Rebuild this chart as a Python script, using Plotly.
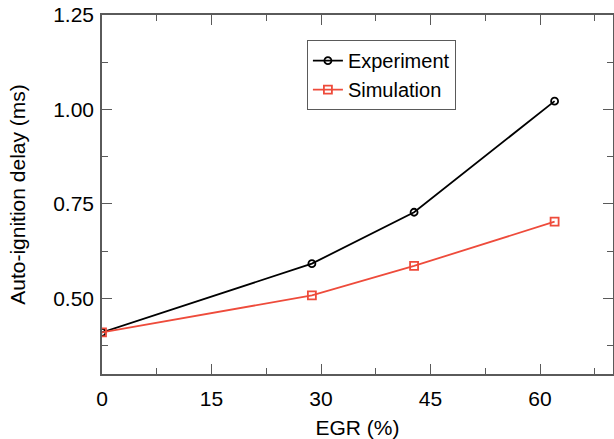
import plotly.graph_objects as go

egr = [0, 28.75, 42.75, 62]
experiment = [0.41, 0.592, 0.728, 1.022]
simulation = [0.41, 0.508, 0.586, 0.703]

x_ticks = [0, 15, 30, 45, 60]
y_ticks = [0.50, 0.75, 1.00, 1.25]
y_tick_labels = ["0.50", "0.75", "1.00", "1.25"]

FONT = "Liberation Sans, Arial, Helvetica, sans-serif"
AX = "#5a5a5a"
RED = "#ee4b3b"

fig = go.Figure()
fig.add_trace(go.Scatter(
    x=egr, y=experiment, name="Experiment", mode="lines+markers",
    line=dict(color="black", width=1.8),
    marker=dict(symbol="circle-open", size=7, color="black", line=dict(width=1.8)),
))
fig.add_trace(go.Scatter(
    x=egr, y=simulation, name="Simulation", mode="lines+markers",
    line=dict(color=RED, width=1.8),
    marker=dict(symbol="square-open", size=8, color=RED, line=dict(width=1.8)),
))

axis_common = dict(
    showgrid=False, zeroline=False, showline=True, linecolor=AX, linewidth=1.5,
    mirror="ticks", ticks="inside", ticklen=10, tickwidth=1.2, tickcolor=AX,
    tickfont=dict(family=FONT, size=21, color="black"),
    title_font=dict(family=FONT, size=21, color="black"),
    ticklabeloverflow="allow", automargin=False,
)

fig.update_xaxes(
    range=[0, 70], tickvals=x_ticks, title_text="EGR (%)", title_standoff=11,
    minor=dict(dtick=7.5, tick0=0, ticks="inside", ticklen=6, tickcolor=AX, tickwidth=1.2),
    ticklabelstandoff=5,
    **axis_common,
)
fig.update_yaxes(
    range=[0.3, 1.25], tickvals=y_ticks, ticktext=y_tick_labels,
    title_text="Auto-ignition delay (ms)", title_standoff=22,
    minor=dict(tickvals=[0.375, 0.625, 0.875, 1.125], ticks="inside", ticklen=6, tickcolor=AX, tickwidth=1.2),
    ticklabelstandoff=2,
    **axis_common,
)

fig.update_layout(
    width=614, height=439,
    margin=dict(l=102, r=1, t=15, b=65),
    paper_bgcolor="white", plot_bgcolor="white",
    font=dict(family=FONT, size=20, color="black"),
    legend=dict(
        x=0.401, y=0.93, xanchor="left", yanchor="top",
        bordercolor=AX, borderwidth=1, bgcolor="white",
        font=dict(family=FONT, size=20, color="black"),
        tracegroupgap=0, itemwidth=30,
    ),
)

fig.write_html(
    "out.html",
    config={"displayModeBar": False},
    post_script="document.body.style.margin='0';document.body.style.overflow='hidden';",
)
